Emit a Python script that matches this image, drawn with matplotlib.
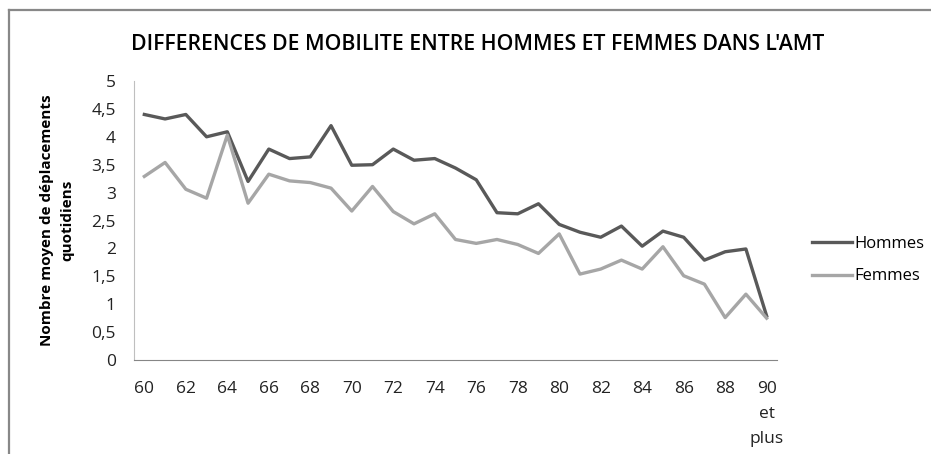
import matplotlib
matplotlib.use("Agg")
import matplotlib.pyplot as plt
from matplotlib.lines import Line2D

ages = list(range(60, 91))
hommes = [4.40, 4.32, 4.40, 4.00, 4.09, 3.20, 3.78, 3.61, 3.64, 4.20,
          3.49, 3.50, 3.78, 3.58, 3.61, 3.44, 3.23, 2.64, 2.62, 2.80,
          2.43, 2.29, 2.20, 2.40, 2.04, 2.31, 2.20, 1.79, 1.94, 1.99, 0.79]
femmes = [3.29, 3.54, 3.06, 2.90, 4.03, 2.81, 3.33, 3.21, 3.18, 3.08,
          2.67, 3.11, 2.66, 2.44, 2.62, 2.16, 2.09, 2.16, 2.07, 1.91,
          2.26, 1.54, 1.63, 1.79, 1.63, 2.03, 1.51, 1.36, 0.76, 1.18, 0.75]
tick_ages = list(range(60, 91, 2))
tick_labels = [str(a) for a in tick_ages[:-1]] + ["90\net\nplus"]
y_ticks = [0, 0.5, 1, 1.5, 2, 2.5, 3, 3.5, 4, 4.5, 5]

plt.rcParams["font.family"] = ["Open Sans", "DejaVu Sans"]

fig = plt.figure(figsize=(9.31, 4.54), dpi=100)
ax = fig.add_axes([0.1439, 0.2070, 0.6907, 0.6146])

ax.plot(ages, hommes, color="#595959", lw=2.4, label="Hommes", solid_joinstyle="round")
ax.plot(ages, femmes, color="#a6a6a6", lw=2.4, label="Femmes", solid_joinstyle="round")

ax.set_xlim(59.5, 90.5)
ax.set_ylim(0, 5)
ax.set_xticks(tick_ages)
ax.set_xticklabels(tick_labels, fontsize=12.5, color="#222222", linespacing=1.75, va="top")
ax.set_yticks(y_ticks)
ax.set_yticklabels([str(v).replace(".", ",").replace(",0", "") for v in y_ticks],
                   fontsize=12.5, color="#222222")
ax.tick_params(length=0)
ax.tick_params(axis="x", pad=15)
ax.tick_params(axis="y", pad=13)
for s in ["top", "right"]:
    ax.spines[s].set_visible(False)
ax.spines["left"].set_color("#bfbfbf")
ax.spines["bottom"].set_color("#868686")

ax.set_ylabel("Nombre moyen de déplacements\nquotidiens", fontsize=11,
              fontweight="bold", labelpad=12, linespacing=1.6)

fig.text(0.513, 0.903, "DIFFERENCES DE MOBILITE ENTRE HOMMES ET FEMMES DANS L'AMT",
         ha="center", va="center", fontsize=15.3, fontweight="semibold")

leg = fig.legend(loc="center left", bbox_to_anchor=(0.872, 0.427),
                 bbox_transform=fig.transFigure, frameon=False,
                 fontsize=12, handlelength=2.4, handletextpad=0.15,
                 labelspacing=1.0, borderpad=0, borderaxespad=0)

# cadre du graphique
fig.add_artist(Line2D([0.0092, 1.0], [0.978, 0.978], color="#888888", lw=1.6))
fig.add_artist(Line2D([0.0092, 0.0092], [0.0, 0.978], color="#888888", lw=1.6))

fig.savefig("out.png", dpi=100)
